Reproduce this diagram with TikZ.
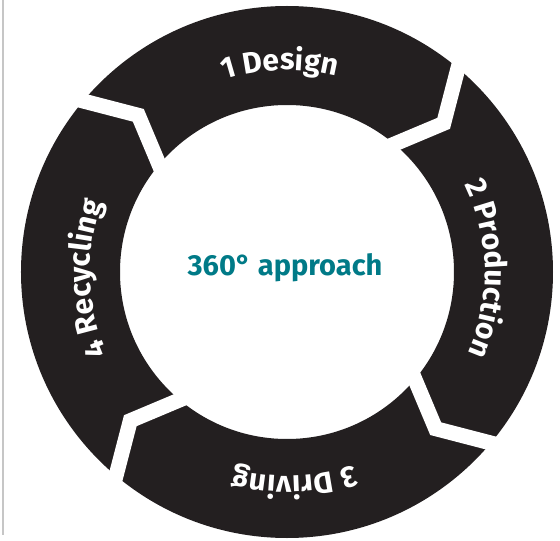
\documentclass[tikz,border=0pt]{standalone}
\usepackage{fontspec}
\setmainfont{Fira Sans}
\usepackage{tikz}
\usetikzlibrary{calc}
\usetikzlibrary{decorations.text}

\definecolor{ringblack}{RGB}{35,31,32}
\definecolor{tealtext}{RGB}{0,122,135}
\newcommand{\stepfont}{\fontsize{30}{30}\selectfont\bfseries}

\begin{document}
\begin{tikzpicture}[x=1pt,y=1pt]
        \useasboundingbox (-287,-269) rectangle (273,272);

        % frame line
        \coordinate (Ftop) at (-284,272);
        \coordinate (Fbot) at (-284,-263);
        \draw[gray!45, line width=2pt] (Ftop) -- (Fbot);

        % ring
        % ----
        \coordinate (O) at (0,0);
        \fill[ringblack, even odd rule] (O) circle (266) (O) circle (167);

        % gaps between the steps
        \foreach \a in {50,-40,-130,140} {
            \coordinate (P) at (\a:266);
            \coordinate (K) at (\a-6.5:216);
            \coordinate (Q) at (\a:167);
            \draw[white, line width=15pt, miter limit=6]
                ($(K)!1.5!(P)$) -- (K) -- ($(K)!1.5!(Q)$);
        }

        % step labels
        \path[decorate, decoration={text along path, text align=center, text color=white,
            text={|\stepfont|1 Design}}]
            (132:202) arc[start angle=132, end angle=52, radius=202];
        \path[decorate, decoration={text along path, text align=center, text color=white,
            text={|\stepfont|2 Production}}]
            (41:198) arc[start angle=41, end angle=-39, radius=198];
        \path[decorate, decoration={text along path, text align=center, text color=white,
            text={|\stepfont|3 Driving}}]
            (-48:204) arc[start angle=-48, end angle=-128, radius=204];
        \path[decorate, decoration={text along path, text align=center, text color=white,
            text={|\stepfont|4 Recycling}}]
            (222:197) arc[start angle=222, end angle=142, radius=197];

        % centre text
        \node[anchor=base, text=tealtext, font=\fontsize{29}{29}\selectfont\bfseries]
            (title) at (-2,-3) {360° approach};

    \end{tikzpicture}
\end{document}
